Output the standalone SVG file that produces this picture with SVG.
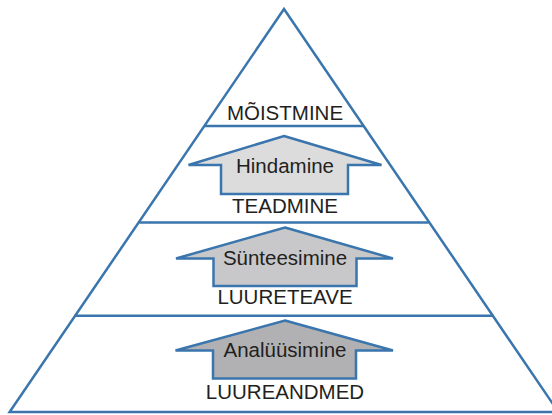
<svg xmlns="http://www.w3.org/2000/svg" width="552" height="415" viewBox="0 0 552 415">
<style>
.ln{fill:none;stroke:#3a76ad;stroke-width:2.5;stroke-linejoin:miter}
.ar{stroke:#3a76ad;stroke-width:2.5;stroke-linejoin:miter}
.t{font-family:"Liberation Sans",Arial,sans-serif;font-size:20.5px;fill:#231f20;text-anchor:middle}
</style>
<rect width="552" height="415" fill="#ffffff"/>
<g id="pyramid">
<polygon class="ln" points="284,9 9.6,412 558.4,412"/>
<line class="ln" x1="204.3" y1="126" x2="363.7" y2="126"/>
<line class="ln" x1="139.4" y1="222.5" x2="428.6" y2="222.5"/>
<line class="ln" x1="74.6" y1="315.7" x2="493.4" y2="315.7"/>
</g>
<g id="moistmine">
<text class="t" x="285" y="120">MÕISTMINE</text>
</g>
<g id="hindamine">
<polygon class="ar" fill="#dcdcdd" points="284,136 381.5,165 348,165 348,194 221,194 221,165 188.5,165"/>
<text class="t" x="285" y="172.5">Hindamine</text>
</g>
<g id="teadmine">
<text class="t" x="285" y="212.5">TEADMINE</text>
</g>
<g id="sunteesimine">
<polygon class="ar" fill="#c8c8ca" points="285,227.5 393,258.5 356.5,258.5 356.5,286 213.5,286 213.5,258.5 176,258.5"/>
<text class="t" x="285" y="265">Sünteesimine</text>
</g>
<g id="luureteave">
<text class="t" x="285" y="304">LUURETEAVE</text>
</g>
<g id="analuusimine">
<polygon class="ar" fill="#b1b1b3" points="285,320.5 393,350.5 356,350.5 356,378.5 213,378.5 213,350.5 175.5,350.5"/>
<text class="t" x="285" y="357">Analüüsimine</text>
</g>
<g id="luureandmed">
<text class="t" x="285" y="398.5">LUUREANDMED</text>
</g>
<g id="connectors"></g>
</svg>
